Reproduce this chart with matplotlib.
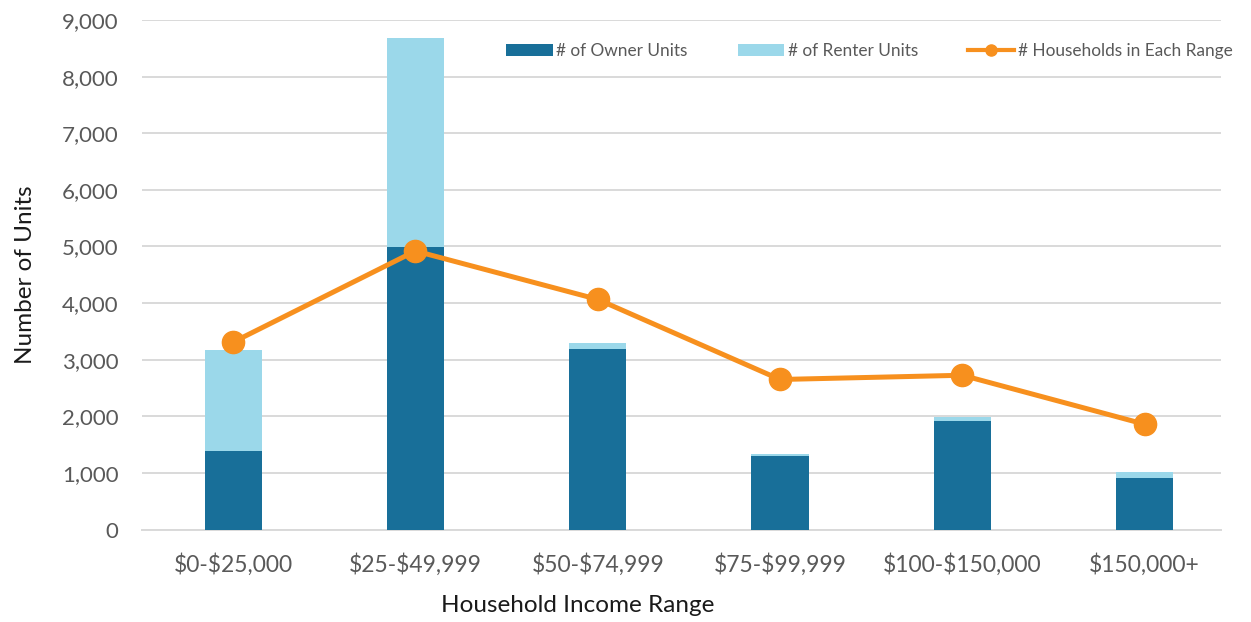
import matplotlib.pyplot as plt
import numpy as np

plt.rcParams['font.family'] = ['Lato', 'DejaVu Sans']
plt.rcParams['text.parse_math'] = False

# data
ranges = ['$0-$25,000', '$25-$49,999', '$50-$74,999', '$75-$99,999', '$100-$150,000', '$150,000+']
owner_units = [1390, 4990, 3180, 1300, 1920, 910]
renter_units = [1780, 3690, 110, 40, 70, 105]
households = [3310, 4920, 4065, 2650, 2725, 1860]
yticks = [0, 1000, 2000, 3000, 4000, 5000, 6000, 7000, 8000, 9000]

owner_color = '#186F99'
renter_color = '#9BD8EA'
line_color = '#F7901E'
grid_color = '#D9D9D9'
text_grey = '#595959'

fig = plt.figure(figsize=(12.51, 6.22), dpi=100)
ax = fig.add_axes([0.1135, 0.1487, 0.8625, 0.8191])

x = np.arange(len(ranges))
w = 0.313
b1 = ax.bar(x, owner_units, width=w, color=owner_color, label='# of Owner Units', zorder=2)
b2 = ax.bar(x, renter_units, width=w, bottom=owner_units, color=renter_color,
            label='# of Renter Units', zorder=2)
ln, = ax.plot(x, households, color=line_color, lw=3.6, marker='o', markersize=16,
              label='# Households in Each Range', zorder=3)

ax.set_xlim(-0.5, 5.419)
ax.set_ylim(0, 9000)
ax.set_yticks(yticks)
ax.set_yticklabels([f'{v:,}' for v in yticks])
ax.set_xticks(x)
ax.set_xticklabels(ranges)
ax.tick_params(axis='both', length=0, colors=text_grey)
ax.tick_params(axis='y', labelsize=16, pad=17)
ax.tick_params(axis='x', labelsize=16.5, pad=17)

ax.yaxis.grid(True, color=grid_color, lw=1.4, zorder=0)
ax.set_axisbelow(True)
for s in ['top', 'right', 'left']:
    ax.spines[s].set_visible(False)
ax.spines['bottom'].set_color(grid_color)
ax.spines['bottom'].set_linewidth(1.4)
ax.spines['bottom'].set_zorder(1)

ax.set_ylabel('Number of Units', fontsize=17.5, color='#1a1a1a')
ax.yaxis.set_label_coords(-0.098, 0.5)
ax.set_xlabel('Household Income Range', fontsize=17.5, color='#1a1a1a')
ax.xaxis.set_label_coords(0.404, -0.128)

leg = ax.legend([b1, b2, ln], ['# of Owner Units', '# of Renter Units', '# Households in Each Range'],
                loc='upper right', bbox_to_anchor=(1.025, 0.985), ncol=3, frameon=False,
                fontsize=12.4, handlelength=2.7, handletextpad=0.2, columnspacing=2.9)
leg.legend_handles[2].set_markersize(8)
leg.legend_handles[2].set_linewidth(3)
for t in leg.get_texts():
    t.set_color(text_grey)

fig.savefig('out.png', dpi=100)
